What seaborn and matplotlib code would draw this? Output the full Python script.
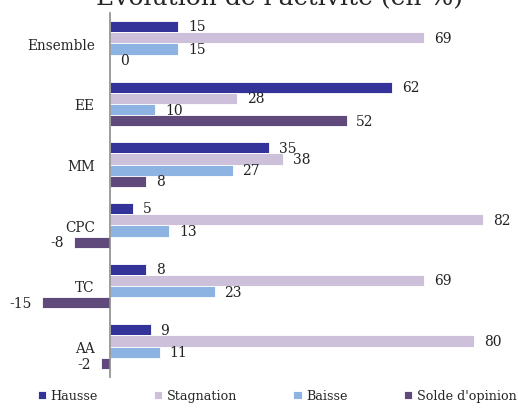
import pandas as pd
import matplotlib.pyplot as plt
import seaborn as sns
from matplotlib.ticker import FixedLocator

# Data
categories = ['Ensemble', 'EE', 'MM', 'CPC', 'TC', 'AA']
series = ['Hausse', 'Stagnation', 'Baisse', "Solde d'opinion"]
hausse = [15, 62, 35, 5, 8, 9]
stagnation = [69, 28, 38, 82, 69, 80]
baisse = [15, 10, 27, 13, 23, 11]
solde = [0, 52, 8, -8, -15, -2]
colors = ['#333399', '#CCC0DA', '#8DB3E2', '#604A7B']

# long format for seaborn
rows = []
for name, vals in zip(series, [hausse, stagnation, baisse, solde]):
    for cat, v in zip(categories, vals):
        rows.append({'categorie': cat, 'serie': name, 'valeur': v})
df = pd.DataFrame(rows)

sns.set_style('white')
plt.rcParams['font.family'] = ['DejaVu Serif']

fig = plt.figure(figsize=(5.18, 4.10), dpi=100)
ax = fig.add_axes([0.076, 0.078, 0.892, 0.888])

sns.barplot(data=df, y='categorie', x='valeur', hue='serie', order=categories,
            hue_order=series, palette=colors, orient='h', width=0.74,
            saturation=1, ax=ax, edgecolor='white', linewidth=0.6)

for c in ax.containers:
    ax.bar_label(c, fmt='%d', padding=7, fontsize=10, color='#222222')

ax.set_xlim(-15.5, 86)
ax.set_ylim(5.5, -0.5)
ax.set_xlabel('')
ax.set_ylabel('')
ax.set_xticks([])

for s in ['top', 'right', 'bottom']:
    ax.spines[s].set_visible(False)
ax.spines['left'].set_position(('data', 0))
ax.spines['left'].set_color('#8c8c8c')
ax.spines['left'].set_linewidth(1.2)

ax.tick_params(axis='y', which='major', length=0, pad=11, labelsize=9.8)
ax.yaxis.set_minor_locator(FixedLocator([i - 0.5 for i in range(7)]))
ax.tick_params(axis='y', which='minor', length=4, color='#8c8c8c', width=1.2)

handles, labels = ax.get_legend_handles_labels()
ax.legend(handles, labels, loc='center left', bbox_to_anchor=(-0.004, -0.052), ncol=4,
          frameon=False, fontsize=9.2, handlelength=0.65, handleheight=0.65,
          handletextpad=0.35, columnspacing=4.4, borderpad=0, borderaxespad=0)

fig.text(0.54, 0.99, "Evolution de l'activité (en %)", ha='center', va='baseline',
         fontsize=18)

fig.savefig('out.png', dpi=100)
